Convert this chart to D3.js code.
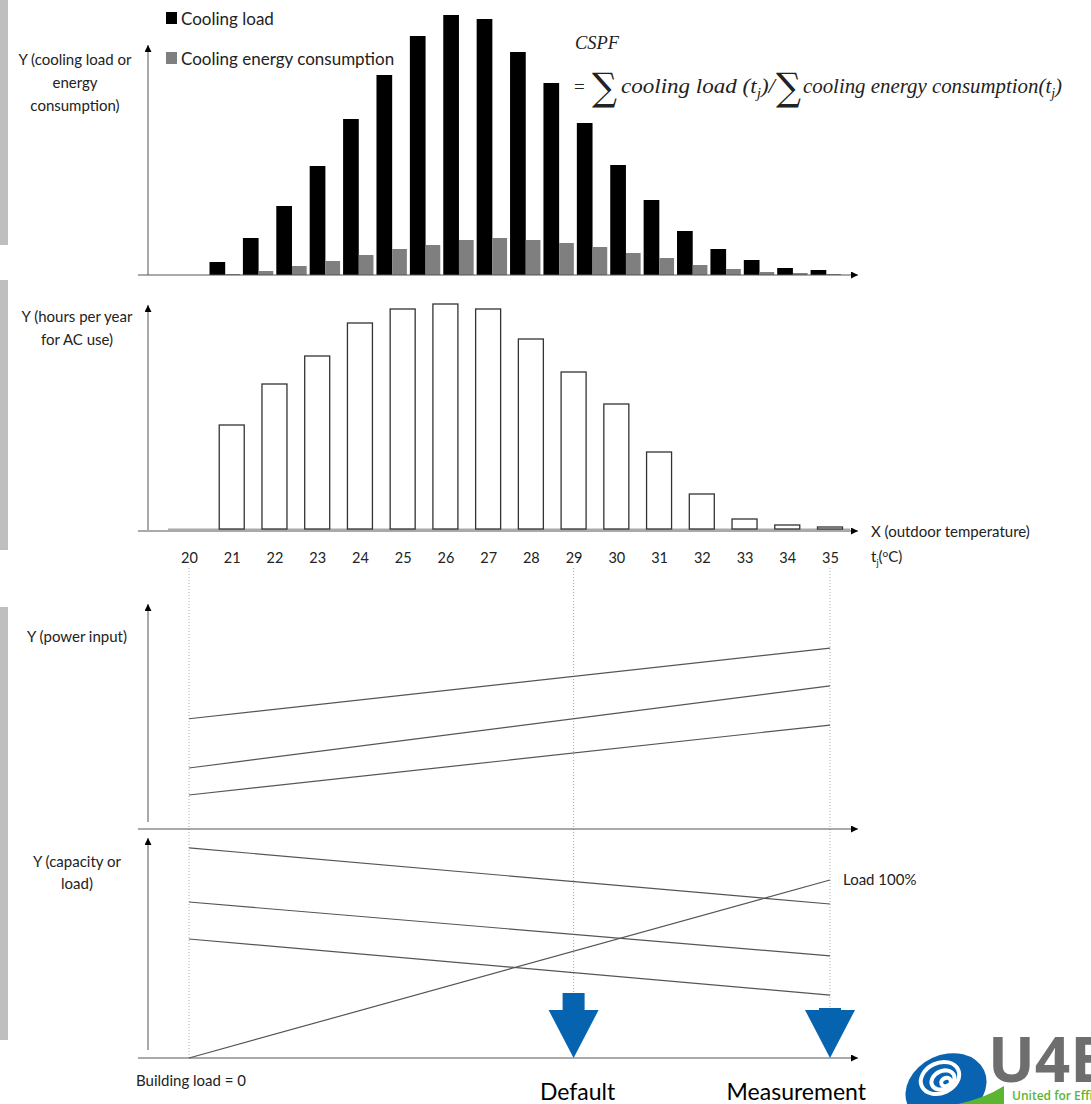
<!DOCTYPE html>
<html>
<head>
<meta charset="utf-8">
<script src="https://cdn.jsdelivr.net/npm/d3@7"></script>
<style>
  body { margin: 0; background: #fff; }
  svg text { font-family: Lato, "Open Sans", sans-serif; fill: #222; }
</style>
</head>
<body>
<div id="container"></div>
<script>
const w = 1091;
const h = 1104;

// top panel: cooling load vs energy consumption per temperature bin
const bins = [1, 2, 3, 4, 5, 6, 7, 8, 9, 10, 11, 12, 13, 14, 15, 16, 17, 18, 19];
const coolingLoad = [13, 37, 69, 109, 156, 200, 239, 260, 256, 223, 192, 152, 110, 75, 44, 26, 15, 7, 5];
const energyUse = [1, 4, 9, 14, 20, 26, 30, 35, 37, 35, 32, 28, 22, 17, 10, 6, 3, 2, 1];

// second panel: hours per year for AC use
const temps = [21, 22, 23, 24, 25, 26, 27, 28, 29, 30, 31, 32, 33, 34, 35];
const hoursPerYear = [105, 146, 174, 207, 221, 226, 221, 191, 158, 126, 78, 36, 11, 5, 3];
const tickTemps = [20, 21, 22, 23, 24, 25, 26, 27, 28, 29, 30, 31, 32, 33, 34, 35];

// lower panels: straight lines between 20 and 35 degC
const lineEnds = [20, 35];
const powerHigh = [49, 80.4];
const powerMid = [27.1, 63.6];
const powerLow = [15.1, 46.2];
const capHigh = [95.5, 70];
const capMid = [70.9, 46.4];
const capLow = [54.1, 28.6];
const buildingLoad = [0, 80.9];

const markTemps = [29, 35];
const markLabels = ["Default", "Measurement"];

const svg = d3.select("#container")
  .append("svg")
  .attr("width", w)
  .attr("height", h);

svg.append("defs").append("marker")
  .attr("id", "arr")
  .attr("viewBox", "0 0 10 10")
  .attr("refX", 10)
  .attr("refY", 5)
  .attr("markerWidth", 8)
  .attr("markerHeight", 7)
  .attr("markerUnits", "userSpaceOnUse")
  .attr("orient", "auto")
  .append("path")
  .attr("d", "M0,0L10,5L0,10z")
  .attr("fill", "#000");

// slide edge strips
[[0, 245], [280, 550], [607, 1040]].forEach(([y0, y1]) => {
  svg.append("rect").attr("x", 0).attr("y", y0).attr("width", 8)
    .attr("height", y1 - y0).attr("fill", "#bfbfbf");
});

function axisLine(x1, y1, x2, y2, arrow) {
  const l = svg.append("line")
    .attr("x1", x1).attr("y1", y1).attr("x2", x2).attr("y2", y2)
    .attr("stroke", "#555").attr("stroke-width", 1);
  if (arrow) l.attr("marker-end", "url(#arr)");
}

function multiline(lines, x, y, step, size) {
  const t = svg.append("text").attr("text-anchor", "middle").style("font-size", size + "px");
  lines.forEach((s, i) => t.append("tspan").attr("x", x).attr("y", y + i * step).text(s));
}

// ---------- panel 1 ----------
const xBin = d3.scaleBand().domain(bins).range([208.5, 843]).paddingInner(0.06).paddingOuter(0.03);
const yTop = d3.scaleLinear().domain([0, 270]).range([275, 5]);
const half = xBin.bandwidth() / 2;

svg.append("g").selectAll("rect")
  .data(bins)
  .enter().append("rect")
  .attr("x", d => xBin(d))
  .attr("y", (d, i) => yTop(coolingLoad[i]))
  .attr("width", half)
  .attr("height", (d, i) => yTop(0) - yTop(coolingLoad[i]))
  .attr("fill", "#000");

svg.append("g").selectAll("rect")
  .data(bins)
  .enter().append("rect")
  .attr("x", d => xBin(d) + half)
  .attr("y", (d, i) => yTop(energyUse[i]))
  .attr("width", half - 1)
  .attr("height", (d, i) => yTop(0) - yTop(energyUse[i]))
  .attr("fill", "#7f7f7f");

axisLine(148, yTop(0), 148, 45, true);
axisLine(138, yTop(0), 858, yTop(0), true);

multiline(["Y (cooling load or", "energy", "consumption)"], 75, 65, 23, 15);

const legend = [["Cooling load", "#000"], ["Cooling energy consumption", "#7f7f7f"]];
legend.forEach(([name, c], i) => {
  svg.append("rect").attr("x", 166).attr("y", 12 + i * 40).attr("width", 11).attr("height", 12).attr("fill", c);
  svg.append("text").attr("x", 181).attr("y", 25 + i * 40).style("font-size", "17px").text(name);
});

// formula
const serif = "'Liberation Serif', 'DejaVu Serif', serif";
svg.append("text").attr("x", 575).attr("y", 49)
  .attr("textLength", 44).attr("lengthAdjust", "spacingAndGlyphs")
  .style("font-family", serif).style("font-style", "italic").style("font-size", "19px").text("CSPF");
svg.append("text").attr("x", 574).attr("y", 93)
  .style("font-family", serif).style("font-size", "19px").text("=");
[592, 776].forEach(x => {
  svg.append("text").attr("x", x).attr("y", 100)
    .attr("textLength", 25).attr("lengthAdjust", "spacingAndGlyphs")
    .style("font-family", "'DejaVu Serif', serif").style("font-size", "38px").text("\u2211");
});
function formulaPart(x, body, width, slash) {
  const t = svg.append("text").attr("x", x).attr("y", 93)
    .attr("textLength", width).attr("lengthAdjust", "spacingAndGlyphs")
    .style("font-family", serif).style("font-style", "italic").style("font-size", "21px");
  t.append("tspan").text(body + "(t");
  t.append("tspan").attr("dy", 5).style("font-size", "14px").text("j");
  t.append("tspan").attr("dy", -5).text(")" + slash);
  return t;
}
formulaPart(621, "cooling load ", 154, "/");
formulaPart(803, "cooling energy consumption", 259, "");

// ---------- panel 2 ----------
const xT = d3.scaleLinear().domain([20, 35]).range([189, 830]);
const yHours = d3.scaleLinear().domain([0, 230]).range([530, 300]);
const barW = 25;

axisLine(148, yHours(0), 148, 305, true);
axisLine(138, 531, 858, 531, true);
svg.append("line").attr("x1", 168).attr("x2", 850).attr("y1", 530).attr("y2", 530)
  .attr("stroke", "#aaa").attr("stroke-width", 3);

svg.append("g").selectAll("rect")
  .data(temps)
  .enter().append("rect")
  .attr("x", d => xT(d) - barW / 2)
  .attr("y", (d, i) => yHours(hoursPerYear[i]))
  .attr("width", barW)
  .attr("height", (d, i) => yHours(0) - yHours(hoursPerYear[i]) - 1)
  .attr("fill", "#fff")
  .attr("stroke", "#333")
  .attr("stroke-width", 1.3);

multiline(["Y (hours per year", "for AC use)"], 77, 322, 23, 15);

const xAxis = d3.axisBottom(xT).tickValues(tickTemps).tickSize(0).tickPadding(8).tickFormat(d3.format("d"));
const gx = svg.append("g").attr("transform", "translate(0,545)").call(xAxis);
gx.select(".domain").remove();
gx.selectAll("text").style("font-size", "14.5px").style("font-family", "Lato, sans-serif").attr("fill", "#222");

svg.append("text").attr("x", 871).attr("y", 537).style("font-size", "15px").text("X (outdoor temperature)");
const tj = svg.append("text").attr("x", 871).attr("y", 562).style("font-size", "15px");
tj.append("tspan").text("t");
tj.append("tspan").attr("dy", 4).style("font-size", "9px").text("j");
tj.append("tspan").attr("dy", -4).text("(");
tj.append("tspan").attr("dy", -5).style("font-size", "10px").text("o");
tj.append("tspan").attr("dy", 5).text("C)");

// guides
[[20, 568, 1058], [29, 568, 995], [35, 568, 1012]].forEach(([t, y0, y1]) => {
  svg.append("line").attr("x1", xT(t)).attr("x2", xT(t)).attr("y1", y0).attr("y2", y1)
    .attr("stroke", "#aaa").attr("stroke-width", 1).attr("stroke-dasharray", "1,2");
});

// ---------- panel 3: power input ----------
const yPower = d3.scaleLinear().domain([0, 100]).range([829, 604]);
axisLine(148, 822, 148, 604, true);
axisLine(138, 829, 858, 829, true);
svg.append("text").attr("x", 77).attr("y", 642).attr("text-anchor", "middle").style("font-size", "15px").text("Y (power input)");

const line = y => d3.line().x(d => xT(d)).y((d, i) => y(i));
[powerHigh, powerMid, powerLow].forEach(arr => {
  svg.append("path").datum(lineEnds)
    .attr("d", line(i => yPower(arr[i])))
    .attr("fill", "none").attr("stroke", "#555").attr("stroke-width", 1.2);
});

// ---------- panel 4: capacity / load ----------
const yCap = d3.scaleLinear().domain([0, 100]).range([1058, 838]);
axisLine(148, 1050, 148, 838, true);
axisLine(138, 1058, 858, 1058, true);
multiline(["Y (capacity or", "load)"], 77, 867, 22, 15);

[capHigh, capMid, capLow, buildingLoad].forEach(arr => {
  svg.append("path").datum(lineEnds)
    .attr("d", line(i => yCap(arr[i])))
    .attr("fill", "none").attr("stroke", "#555").attr("stroke-width", 1.2);
});

svg.append("text").attr("x", 843).attr("y", 885).style("font-size", "15px").text("Load 100%");
svg.append("text").attr("x", 136).attr("y", 1086).style("font-size", "15px").text("Building load = 0");

// blue arrows
const blue = "#0563b0";
const shaftTop = [993, 1008];
markTemps.forEach((t, i) => {
  const cx = xT(t);
  svg.append("rect").attr("x", cx - 11).attr("y", shaftTop[i]).attr("width", 22)
    .attr("height", 1012 - shaftTop[i]).attr("fill", blue);
  svg.append("path")
    .attr("d", `M${cx - 25},1010L${cx + 25},1010L${cx},1058Z`)
    .attr("fill", blue);
});
svg.append("text").attr("x", xT(29) + 4).attr("y", 1100).attr("text-anchor", "middle")
  .style("font-size", "23px").style("fill", "#000").text(markLabels[0]);
svg.append("text").attr("x", 866).attr("y", 1100).attr("text-anchor", "end")
  .style("font-size", "23px").style("fill", "#000").text(markLabels[1]);

// U4E logo
const logo = svg.append("g");
logo.append("ellipse").attr("cx", 946).attr("cy", 1088).attr("rx", 42).attr("ry", 33)
  .attr("transform", "rotate(-25 946 1088)").attr("fill", "#0a63b1");
[[20, 15], [12, 9], [5, 4]].forEach(([rx, ry], i) => {
  logo.append("ellipse").attr("cx", 940 + i * 3).attr("cy", 1078 + i * 2).attr("rx", rx).attr("ry", ry)
    .attr("transform", `rotate(-25 ${940 + i * 3} ${1078 + i * 2})`)
    .attr("fill", "none").attr("stroke", "#fff").attr("stroke-width", 4);
});
logo.append("path").attr("d", "M958,1104Q985,1098 1004,1086L1004,1104Z").attr("fill", "#5cb531");
logo.append("text").attr("x", 988).attr("y", 1082)
  .style("font-family", "'Open Sans', sans-serif").style("font-weight", "bold")
  .style("font-size", "62px").style("fill", "#6e6e6e").text("U4E");
logo.append("text").attr("x", 1012).attr("y", 1100)
  .style("font-family", "'Open Sans', sans-serif").style("font-weight", "600")
  .style("font-size", "12px").style("fill", "#5cb531").text("United for Efficiency");
</script>
</body>
</html>
